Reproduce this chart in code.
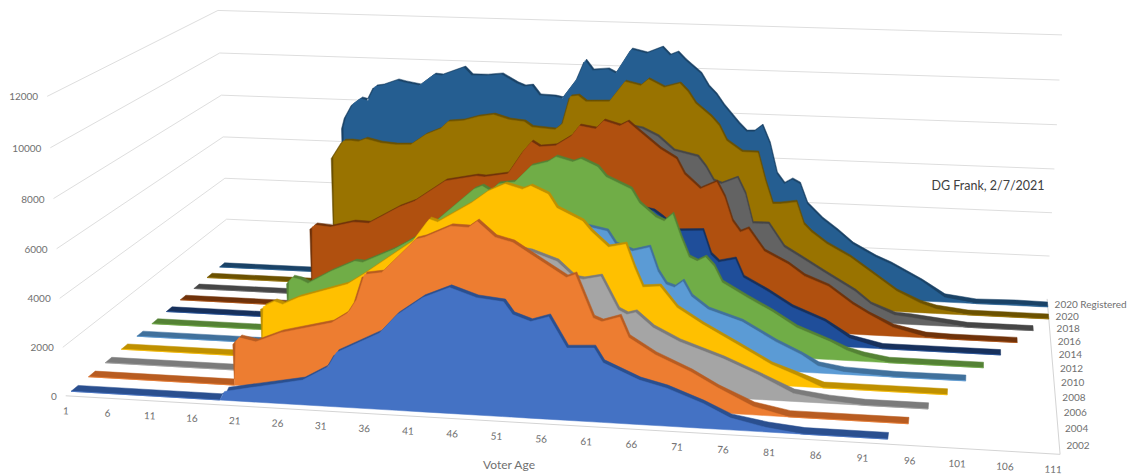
import numpy as np, altair as alt

YEARS = ['2002','2004','2006','2008','2010','2012','2014','2016','2018','2020','2020 Registered']
AGES = {
 '2002':[18,19,28,31,32,37,39,42,45,48,51,52,54,56,58,61,62,66,69,73,76,80,84,93],
 '2004':[18,19,21,24,30,32,33,34,36,40,41,44,46,47,49,51,53,57,58,60,61,63,64,67,71,74,78,82,87,95],
 '2006':[18,24,30,36,42,48,52,55,57,58,60,62,63,64,66,69,74,78,82,86,90,97],
 '2008':[18,20,21,23,29,31,37,39,40,44,46,48,50,51,53,54,57,58,60,62,63,64,66,68,71,75,79,82,85,90,99],
 '2010':[18,21,27,34,40,46,53,57,59,60,62,64,65,66,67,68,69,71,75,79,82,84,87,93,101],
 '2012':[18,19,20,21,24,27,28,32,35,42,43,44,45,47,49,51,52,54,55,57,58,61,62,64,65,66,67,68,69,70,71,72,75,78,81,85,87,89,92,103],
 '2014':[18,25,31,37,44,51,56,60,62,63,64,66,69,70,71,73,74,77,80,84,87,91,99,105],
 '2016':[18,19,21,24,26,30,32,36,40,41,44,46,47,48,50,52,53,55,56,58,59,60,63,65,66,68,70,71,72,73,74,76,79,81,84,87,89,92,96,99,107],
 '2018':[18,22,28,35,42,46,49,55,58,60,62,64,67,68,69,70,72,73,74,76,78,80,83,87,89,92,94,101,109],
 '2020':[18,20,21,22,23,25,27,29,31,33,34,36,38,40,42,44,45,48,49,50,51,52,55,57,59,60,62,64,65,66,68,69,70,72,74,75,76,77,79,80,81,83,86,89,92,95,97,101,111],
 '2020 Registered':[18,19,20,21,22,23,24,26,27,29,31,32,35,36,38,40,42,43,44,45,47,48,50,51,52,54,55,57,59,61,62,63,64,66,67,68,69,71,72,73,74,75,76,77,78,79,80,82,84,86,89,91,95,98,102,107,111],
}
VOTERS = {
 '2002':[0,290,890,1490,2090,2980,3740,4490,4940,4590,4480,3990,3750,3980,2770,2830,2260,1650,1390,860,380,140,0,0],
 '2004':[1700,1880,1740,2180,2700,3150,3700,4750,4860,6270,6370,6860,6840,7100,6500,6320,5880,5020,5160,3450,3310,3540,2730,2090,1470,890,270,0,0,0],
 '2006':[550,890,2280,4270,5610,5710,5480,5120,4490,4440,4590,3260,3090,3190,2600,2080,1470,880,260,90,0,0],
 '2008':[2070,2320,2210,2540,3210,3670,5170,6120,6010,6860,7380,7710,7520,7670,7360,6810,6310,5910,5290,5440,4500,3690,3760,2910,2260,1500,730,360,0,0,0],
 '2010':[720,1220,2220,3410,4810,6180,5870,5590,5450,4920,4660,4850,3860,3320,3210,3480,2860,2340,1890,1110,620,240,80,0,10],
 '2012':[2100,2290,2220,2060,2650,3140,3110,3750,4370,6520,6670,6470,6790,6900,7610,7810,8040,7850,7990,7680,7270,6800,6220,5640,5490,5810,4840,4000,3840,4030,3660,2980,2390,1830,1190,650,350,170,0,0],
 '2014':[750,1920,2800,4020,5670,6650,6290,5470,5500,5430,5180,4610,4670,3650,3330,3490,2710,2150,1510,950,310,0,0,0],
 '2016':[3560,3660,3600,3870,3850,4650,4940,5910,6190,6160,6340,7390,7800,7590,7670,8120,8580,8470,8840,8640,8830,8540,7700,7290,6640,6020,6350,5700,4660,4190,4350,3390,2860,2370,1960,1210,810,320,30,0,0],
 '2018':[2280,2900,3750,5050,5420,6610,6880,8070,8260,8150,7820,7220,6990,6550,5950,5820,6120,5420,4110,4120,3110,2700,2070,1260,710,310,260,0,0],
 '2020':[5910,6670,6690,6660,6800,6640,6580,6610,7100,7400,7740,7810,8020,8130,7930,7860,7630,7550,7840,9080,9130,8870,8910,9830,9670,9970,9630,9830,9480,8960,8390,8010,7340,6860,6850,5600,4560,4580,4690,3700,3350,2840,2280,1550,820,360,170,10,10],
 '2020 Registered':[6900,7390,8010,8270,8180,8850,8910,9170,9090,8970,9500,9470,9870,9520,9530,9610,9220,9090,9140,8700,8670,8600,9540,10370,9930,10000,9820,10940,10780,11070,10720,10870,10520,9940,9370,9020,8530,7720,7370,7390,7670,6860,5500,5040,5250,5070,4160,3490,2970,2390,1830,1540,810,170,0,40,20],
}
FACE = ['#4472c4','#ed7d31','#a5a5a5','#ffc000','#5b9bd5','#70ad47','#1f4e9a','#b0500f','#636363','#997300','#255e91']
EDGE = ['#2a4f8f','#b85c21','#7b7b7b','#bf9000','#41719c','#548235','#17305c','#6f320a','#464646','#6b5100','#1a4266']
GRID = [2000,4000,6000,8000,10000,12000]
AGE_TICKS = list(range(1,112,5))
YMAX = 12000; AGEMAX = 111; N = len(YEARS); WALL = 18.6

# camera of the 3-D view, fitted to the corners of the box
G=[((0,0,0),(65,394)),((1,0,0),(1060,453)),((1,1,0),(1047,296)),((0,1,0),(229,259)),
((0,1,1),(217,8)),((1,1,1),(1062,33)),((0,0,1),(48,95)),((0,0,1/6),(62,343)),((0,1,1/6),(227,217)),((1,1,1/6),(1049,254)),
((0,0,.5),(57,247)),((0,1,.5),(223,135)),((1,1,.5),(1055,167)),((.4545,0,0),(500,420))]
A=[];b=[]
for (t,d,z),(x,y) in G:
    A.append([t,d,z,1,0,0,0,0,-x*t,-x*d,-x*z]);b.append(x)
    A.append([0,0,0,0,t,d,z,1,-y*t,-y*d,-y*z]);b.append(y)
p=np.linalg.lstsq(np.array(A,float),np.array(b,float),rcond=None)[0]
def proj(age,d,v):
    t=(age-1)/(AGEMAX-1); z=v/YMAX
    w=p[8]*t+p[9]*d+p[10]*z+1
    return float((p[0]*t+p[1]*d+p[2]*z+p[3])/w),float((p[4]*t+p[5]*d+p[6]*z+p[7])/w)

X=alt.X('x:Q',scale=alt.Scale(domain=[8,1127],range=[0,1119]),axis=None)
Y=alt.Y('y:Q',scale=alt.Scale(domain=[8,466],range=[0,458]),axis=None)
def rows(pts): return alt.Data(values=[{'x':x,'y':y,'i':k} for k,(x,y) in enumerate(pts)])
layers=[]
def shape(pts,c):
    layers.append(alt.Chart(rows(pts)).mark_line(fill=c,stroke=c,strokeWidth=.5,interpolate='linear-closed').encode(x=X,y=Y,order='i:Q'))
def line(pts,c='#dedede',w=1):
    layers.append(alt.Chart(rows(pts)).mark_line(stroke=c,strokeWidth=w).encode(x=X,y=Y,order='i:Q'))
def labels(recs,**kw):
    layers.append(alt.Chart(alt.Data(values=recs)).mark_text(font='Lato',**kw).encode(x=X,y=Y,text='t:N'))

for v in GRID:
    line([proj(1,0,v),proj(1,1,v),proj(AGEMAX,1,v)])
line([proj(1,0,0),proj(AGEMAX,0,0),proj(AGEMAX,1,0)],'#d4d4d4')
for i,n in reversed(list(enumerate(YEARS))):
    ag=[1,WALL]+[WALL if a==18 else a for a in AGES[n]]; vv=[0,0]+VOTERS[n]
    df=(i+.3)/N; db=(i+.7)/N
    shape([proj(a,db,v) for a,v in zip(ag,vv)]+[proj(a,df,v) for a,v in zip(ag[::-1],vv[::-1])],EDGE[i])
    # on the raised part the dark top band reads thinner than on the flat ribbon
    dm=[df+(db-df)*min(1,v/500)*.5 for v in vv]
    shape([proj(a,m,v) for a,m,v in zip(ag,dm,vv)]+[proj(a,df,0) for a in ag[::-1]],FACE[i])
grey='#707070'
def yrec(v):
    x,y=proj(1,0,v); return {'x':x-9,'y':y+1,'t':str(v)}
labels([yrec(v) for v in [0]+GRID],align='right',baseline='middle',fontSize=10,color=grey)
recs=[]
for a in AGE_TICKS:
    x,y=proj(a,0,0); recs.append({'x':x-7*(a-1)/110,'y':y+15.5,'t':str(a)})
labels(recs,align='center',baseline='middle',fontSize=10,color=grey,angle=3)
recs=[]
for i,n in enumerate(YEARS):
    x,y=proj(AGEMAX,(i+.5)/N,0); recs.append({'x':x+7,'y':y,'t':n})
labels(recs,align='left',baseline='middle',fontSize=10,color=grey)
labels([{'x':509,'y':463,'t':'Voter Age'}],align='center',baseline='middle',fontSize=12,color=grey)
labels([{'x':988,'y':184,'t':'DG Frank, 2/7/2021'}],align='center',baseline='middle',fontSize=12.5,color='#404040')

chart=alt.layer(*layers).properties(width=1119,height=458,padding=0).configure_view(stroke=None)
chart.save("out.html",embed_options={"renderer":"svg","actions":False})
